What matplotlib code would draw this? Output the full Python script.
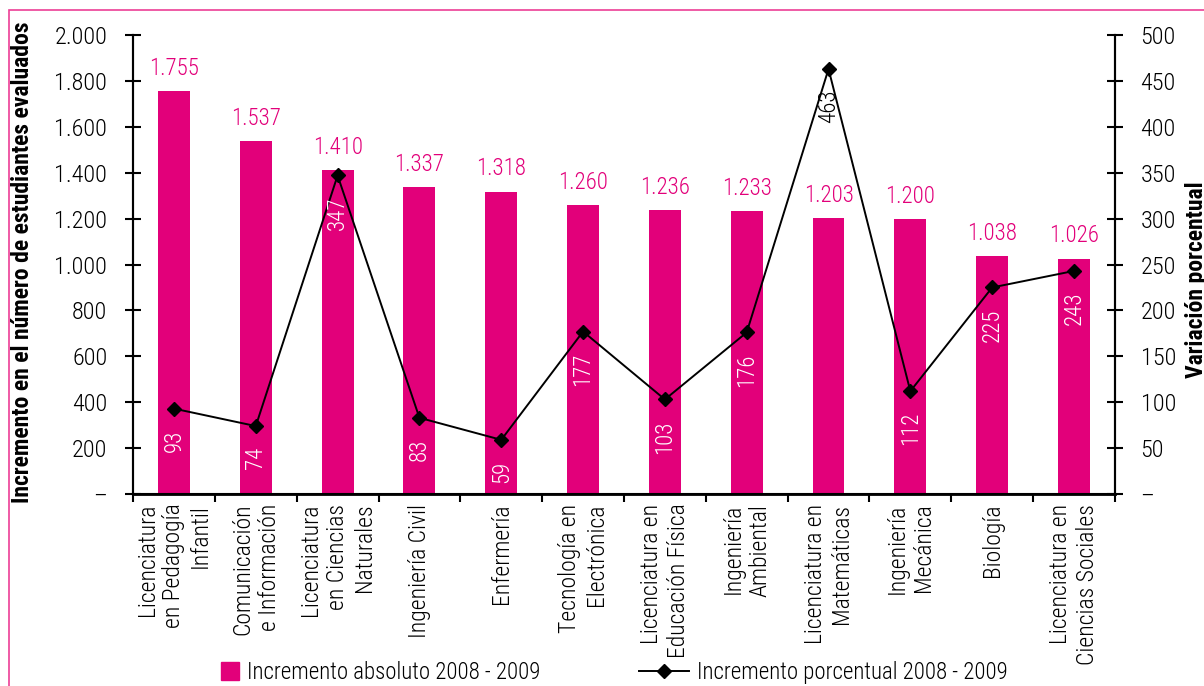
import numpy as np
import matplotlib
matplotlib.use("Agg")
import matplotlib.pyplot as plt
from matplotlib.patches import Rectangle
from matplotlib.legend_handler import HandlerPatch
from matplotlib.ticker import FuncFormatter, MultipleLocator

plt.rcParams['font.family'] = ['Roboto Condensed', 'Liberation Sans Narrow', 'DejaVu Sans']
plt.rcParams['font.weight'] = 'light'

# datos: incremento 2008-2009 por programa
programas = ["Licenciatura\nen Pedagogía\nInfantil", "Comunicación\ne Información",
             "Licenciatura\nen Ciencias\nNaturales", "Ingeniería Civil", "Enfermería",
             "Tecnología en\nElectrónica", "Licenciatura en\nEducación Física",
             "Ingeniería\nAmbiental", "Licenciatura en\nMatemáticas", "Ingeniería\nMecánica",
             "Biología", "Licenciatura en\nCiencias Sociales"]
incremento_abs = [1755, 1537, 1410, 1337, 1318, 1260, 1236, 1233, 1203, 1200, 1038, 1026]
incremento_pct = [93, 74, 347, 83, 59, 177, 103, 176, 463, 112, 225, 243]

MAGENTA = "#E2007A"
FS = 16.5

def miles(v, pos=None):
    if v == 0:
        return "–"
    return f"{int(v):,}".replace(",", ".")

def cuadro(legend, orig_handle, xdescent, ydescent, width, height, fontsize):
    # cuadrado pegado al texto de la leyenda
    lado = 13
    return Rectangle((width - xdescent - lado, 0.5 * height - 0.5 * ydescent - lado / 2),
                     lado, lado)

fig = plt.figure(figsize=(12.04, 6.86), dpi=100)
ax = fig.add_axes([0.1105, 0.2799, 0.8155, 0.669])
ax2 = ax.twinx()

x = np.arange(len(programas))
ax.bar(x, incremento_abs, width=0.39, color=MAGENTA, zorder=2)
ax.set_xlim(-0.5, len(programas) - 0.5)
ax.set_ylim(0, 2000)
ax2.set_ylim(0, 500)

for xi, v in zip(x, incremento_abs):
    ax.annotate(miles(v), (xi, v), xytext=(0, 8), textcoords="offset points",
                ha="center", va="bottom", color=MAGENTA, fontsize=FS)

linea, = ax2.plot(x, incremento_pct, color="black", lw=1.4, marker="D", ms=7, zorder=3)
for xi, p, h in zip(x, incremento_pct, incremento_abs):
    # etiqueta blanca si cae dentro de la barra
    col = "white" if p / 500 < h / 2000 + 0.02 else "black"
    ax2.annotate(str(p), (xi, p), xytext=(0, -15), textcoords="offset points",
                 ha="center", va="top", rotation=90, color=col, fontsize=FS)

# ejes
ax.yaxis.set_major_locator(MultipleLocator(200))
ax.yaxis.set_major_formatter(FuncFormatter(miles))
ax2.yaxis.set_major_locator(MultipleLocator(50))
ax2.yaxis.set_major_formatter(FuncFormatter(miles))
ax.tick_params(axis="y", direction="inout", length=11, width=1.5, labelsize=FS + 1, pad=13)
ax2.tick_params(axis="y", direction="inout", length=11, width=1.5, labelsize=FS + 1, pad=13)

ax.set_xticks(np.arange(len(programas) + 1) - 0.5)
ax.set_xticklabels([])
ax.tick_params(axis="x", direction="out", length=6, width=1.5)
for xi, nombre in zip(x, programas):
    ax.annotate(nombre, (xi, 0), xycoords=("data", "axes fraction"), xytext=(0, -7),
                textcoords="offset points", ha="center", va="top", rotation=90,
                multialignment="right", fontsize=FS + 0.5)

for a in (ax, ax2):
    a.spines["top"].set_visible(False)
    for s in ("left", "right", "bottom"):
        a.spines[s].set_linewidth(1.5)
ax.spines["bottom"].set_linewidth(2)

fig.text(23 / 1204, 1 - 262 / 686, "Incremento en el número de estudiantes evaluados",
         rotation=90, ha="center", va="center", fontsize=17, fontweight="bold")
fig.text(1197 / 1204, 1 - 280 / 686, "Variación porcentual", rotation=90,
         ha="center", va="center", fontsize=17, fontweight="bold")

# leyenda
muestra = Rectangle((0, 0), 1, 1, color=MAGENTA)
fig.legend([muestra, linea], ["Incremento absoluto 2008 - 2009", "Incremento porcentual 2008 - 2009"],
           loc="center", bbox_to_anchor=(0.497, 0.02), ncol=2, frameon=False,
           fontsize=FS, columnspacing=4.3, handlelength=2.2, handletextpad=0.35,
           handler_map={muestra: HandlerPatch(patch_func=cuadro)})

# marco
fig.patches.append(Rectangle((9 / 1204, -0.2), 1.5, 1.2 - 10 / 686, fill=False,
                             edgecolor="#EC3E96", lw=1.2, transform=fig.transFigure,
                             figure=fig))

fig.savefig("out.png", dpi=100)
